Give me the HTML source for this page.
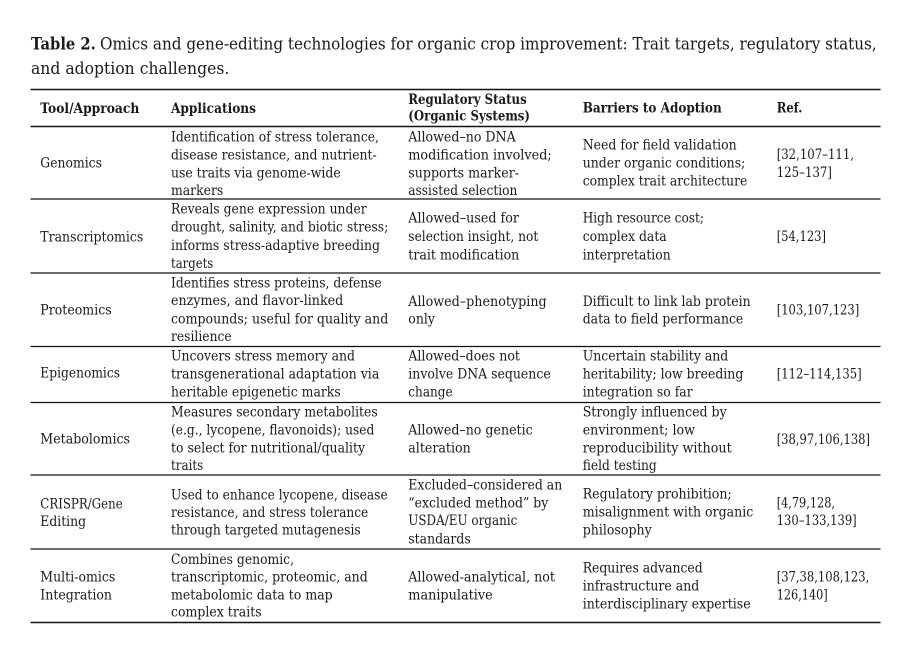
<!DOCTYPE html>
<html>
<head>
<meta charset="utf-8">
<style>
  html, body { margin: 0; padding: 0; background: #ffffff; }
  body { width: 919px; height: 672px; overflow: hidden; }
  svg { display: block; }
  text { font-family: "DejaVu Serif", "Liberation Serif", serif; fill: #1a1a1a; font-size: 13.5px; }
  .b { font-weight: bold; }
  .t { font-size: 17px; }
</style>
</head>
<body>
<svg width="919" height="672" viewBox="0 0 919 672" xmlns="http://www.w3.org/2000/svg">
  <rect x="0" y="0" width="919" height="672" fill="#ffffff"/>

  <!-- Title -->
  <text class="t b" x="31" y="49.3" textLength="64.7" lengthAdjust="spacingAndGlyphs">Table 2.</text>
  <text class="t" x="100" y="49.3" textLength="776.7" lengthAdjust="spacingAndGlyphs">Omics and gene-editing technologies for organic crop improvement: Trait targets, regulatory status,</text>
  <text class="t" x="31" y="74" textLength="198.3" lengthAdjust="spacingAndGlyphs">and adoption challenges.</text>

  <!-- Rules -->
  <g stroke="#111" fill="none">
    <line x1="30.5" y1="89.5" x2="880.5" y2="89.5" stroke-width="1.6"/>
    <line x1="30.5" y1="126.5" x2="880.5" y2="126.5" stroke-width="1.4"/>
    <line x1="30.5" y1="199" x2="880.5" y2="199" stroke-width="1.3"/>
    <line x1="30.5" y1="273" x2="880.5" y2="273" stroke-width="1.3"/>
    <line x1="30.5" y1="346.5" x2="880.5" y2="346.5" stroke-width="1.3"/>
    <line x1="30.5" y1="402.5" x2="880.5" y2="402.5" stroke-width="1.3"/>
    <line x1="30.5" y1="475" x2="880.5" y2="475" stroke-width="1.3"/>
    <line x1="30.5" y1="549" x2="880.5" y2="549" stroke-width="1.3"/>
    <line x1="30.5" y1="622.5" x2="880.5" y2="622.5" stroke-width="1.5"/>
  </g>

  <!-- Header -->
  <text class="b" x="40.3" y="113" textLength="99" lengthAdjust="spacingAndGlyphs">Tool/Approach</text>
  <text class="b" x="171" y="113" textLength="85" lengthAdjust="spacingAndGlyphs">Applications</text>
  <text class="b" x="408.3" y="104" textLength="118.4" lengthAdjust="spacingAndGlyphs">Regulatory Status</text>
  <text class="b" x="408.3" y="120.7" textLength="121.7" lengthAdjust="spacingAndGlyphs">(Organic Systems)</text>
  <text class="b" x="582.7" y="112.7" textLength="139" lengthAdjust="spacingAndGlyphs">Barriers to Adoption</text>
  <text class="b" x="776.7" y="112.7" textLength="25.6" lengthAdjust="spacingAndGlyphs">Ref.</text>

  <!-- Genomics -->
  <text x="40.3" y="167.7" textLength="61.7" lengthAdjust="spacingAndGlyphs">Genomics</text>
  <text x="171" y="141.3" textLength="208" lengthAdjust="spacingAndGlyphs">Identification of stress tolerance,</text>
  <text x="171" y="159.3" textLength="205.7" lengthAdjust="spacingAndGlyphs">disease resistance, and nutrient-</text>
  <text x="171" y="177.3" textLength="169.7" lengthAdjust="spacingAndGlyphs">use traits via genome-wide</text>
  <text x="171" y="195" textLength="52.3" lengthAdjust="spacingAndGlyphs">markers</text>
  <text x="408.3" y="141.3" textLength="107.4" lengthAdjust="spacingAndGlyphs">Allowed–no DNA</text>
  <text x="408.3" y="159.3" textLength="143.4" lengthAdjust="spacingAndGlyphs">modification involved;</text>
  <text x="408.3" y="177.3" textLength="110.7" lengthAdjust="spacingAndGlyphs">supports marker-</text>
  <text x="408.3" y="195" textLength="109" lengthAdjust="spacingAndGlyphs">assisted selection</text>
  <text x="582.7" y="149.3" textLength="154" lengthAdjust="spacingAndGlyphs">Need for field validation</text>
  <text x="582.7" y="167.3" textLength="162.6" lengthAdjust="spacingAndGlyphs">under organic conditions;</text>
  <text x="582.7" y="185.3" textLength="164.6" lengthAdjust="spacingAndGlyphs">complex trait architecture</text>
  <text x="776.7" y="159" textLength="77.3" lengthAdjust="spacingAndGlyphs">[32,107–111,</text>
  <text x="776.7" y="177" textLength="55.3" lengthAdjust="spacingAndGlyphs">125–137]</text>

  <!-- Transcriptomics -->
  <text x="40.3" y="241.7" textLength="103" lengthAdjust="spacingAndGlyphs">Transcriptomics</text>
  <text x="171" y="213.3" textLength="195.7" lengthAdjust="spacingAndGlyphs">Reveals gene expression under</text>
  <text x="171" y="231.7" textLength="217.3" lengthAdjust="spacingAndGlyphs">drought, salinity, and biotic stress;</text>
  <text x="171" y="250" textLength="209" lengthAdjust="spacingAndGlyphs">informs stress-adaptive breeding</text>
  <text x="171" y="268" textLength="42.3" lengthAdjust="spacingAndGlyphs">targets</text>
  <text x="408.3" y="222.7" textLength="110.7" lengthAdjust="spacingAndGlyphs">Allowed–used for</text>
  <text x="408.3" y="241" textLength="130" lengthAdjust="spacingAndGlyphs">selection insight, not</text>
  <text x="408.3" y="259.3" textLength="111" lengthAdjust="spacingAndGlyphs">trait modification</text>
  <text x="582.7" y="222.7" textLength="121.3" lengthAdjust="spacingAndGlyphs">High resource cost;</text>
  <text x="582.7" y="241" textLength="84" lengthAdjust="spacingAndGlyphs">complex data</text>
  <text x="582.7" y="259.3" textLength="88" lengthAdjust="spacingAndGlyphs">interpretation</text>
  <text x="776.7" y="241" textLength="49.3" lengthAdjust="spacingAndGlyphs">[54,123]</text>

  <!-- Proteomics -->
  <text x="40.3" y="314.3" textLength="71.4" lengthAdjust="spacingAndGlyphs">Proteomics</text>
  <text x="171" y="287.3" textLength="210.7" lengthAdjust="spacingAndGlyphs">Identifies stress proteins, defense</text>
  <text x="171" y="305" textLength="172.3" lengthAdjust="spacingAndGlyphs">enzymes, and flavor-linked</text>
  <text x="171" y="323.3" textLength="217.3" lengthAdjust="spacingAndGlyphs">compounds; useful for quality and</text>
  <text x="171" y="341" textLength="60.7" lengthAdjust="spacingAndGlyphs">resilience</text>
  <text x="408.3" y="306" textLength="138.4" lengthAdjust="spacingAndGlyphs">Allowed–phenotyping</text>
  <text x="408.3" y="323.3" textLength="26.7" lengthAdjust="spacingAndGlyphs">only</text>
  <text x="582.7" y="306" textLength="168" lengthAdjust="spacingAndGlyphs">Difficult to link lab protein</text>
  <text x="582.7" y="323.3" textLength="160.6" lengthAdjust="spacingAndGlyphs">data to field performance</text>
  <text x="776.7" y="314.3" textLength="82.6" lengthAdjust="spacingAndGlyphs">[103,107,123]</text>

  <!-- Epigenomics -->
  <text x="40.3" y="377.7" textLength="79.7" lengthAdjust="spacingAndGlyphs">Epigenomics</text>
  <text x="171" y="360.3" textLength="184" lengthAdjust="spacingAndGlyphs">Uncovers stress memory and</text>
  <text x="171" y="378.5" textLength="208.3" lengthAdjust="spacingAndGlyphs">transgenerational adaptation via</text>
  <text x="171" y="396.7" textLength="169.7" lengthAdjust="spacingAndGlyphs">heritable epigenetic marks</text>
  <text x="408.3" y="360.3" textLength="111.7" lengthAdjust="spacingAndGlyphs">Allowed–does not</text>
  <text x="408.3" y="378.5" textLength="142.4" lengthAdjust="spacingAndGlyphs">involve DNA sequence</text>
  <text x="408.3" y="396.7" textLength="44.4" lengthAdjust="spacingAndGlyphs">change</text>
  <text x="582.7" y="360.3" textLength="145.6" lengthAdjust="spacingAndGlyphs">Uncertain stability and</text>
  <text x="582.7" y="378.5" textLength="160.6" lengthAdjust="spacingAndGlyphs">heritability; low breeding</text>
  <text x="582.7" y="396.7" textLength="110" lengthAdjust="spacingAndGlyphs">integration so far</text>
  <text x="776.7" y="378.7" textLength="85" lengthAdjust="spacingAndGlyphs">[112–114,135]</text>

  <!-- Metabolomics -->
  <text x="40.3" y="443.3" textLength="89.7" lengthAdjust="spacingAndGlyphs">Metabolomics</text>
  <text x="171" y="416.7" textLength="206.7" lengthAdjust="spacingAndGlyphs">Measures secondary metabolites</text>
  <text x="171" y="434.7" textLength="203.3" lengthAdjust="spacingAndGlyphs">(e.g., lycopene, flavonoids); used</text>
  <text x="171" y="452.7" textLength="194" lengthAdjust="spacingAndGlyphs">to select for nutritional/quality</text>
  <text x="171" y="470" textLength="32.3" lengthAdjust="spacingAndGlyphs">traits</text>
  <text x="408.3" y="434.7" textLength="124.4" lengthAdjust="spacingAndGlyphs">Allowed–no genetic</text>
  <text x="408.3" y="452.7" textLength="62.4" lengthAdjust="spacingAndGlyphs">alteration</text>
  <text x="582.7" y="416.7" textLength="144" lengthAdjust="spacingAndGlyphs">Strongly influenced by</text>
  <text x="582.7" y="434.7" textLength="112.3" lengthAdjust="spacingAndGlyphs">environment; low</text>
  <text x="582.7" y="452.5" textLength="149" lengthAdjust="spacingAndGlyphs">reproducibility without</text>
  <text x="582.7" y="470" textLength="74" lengthAdjust="spacingAndGlyphs">field testing</text>
  <text x="776.7" y="444" textLength="93.3" lengthAdjust="spacingAndGlyphs">[38,97,106,138]</text>

  <!-- CRISPR -->
  <text x="40.3" y="508.3" textLength="82.4" lengthAdjust="spacingAndGlyphs">CRISPR/Gene</text>
  <text x="40.3" y="526" textLength="45.7" lengthAdjust="spacingAndGlyphs">Editing</text>
  <text x="171" y="499.3" textLength="216.7" lengthAdjust="spacingAndGlyphs">Used to enhance lycopene, disease</text>
  <text x="171" y="517" textLength="197.3" lengthAdjust="spacingAndGlyphs">resistance, and stress tolerance</text>
  <text x="171" y="534.5" textLength="189.7" lengthAdjust="spacingAndGlyphs">through targeted mutagenesis</text>
  <text x="408.3" y="489.3" textLength="154" lengthAdjust="spacingAndGlyphs">Excluded–considered an</text>
  <text x="408.3" y="507.3" textLength="140" lengthAdjust="spacingAndGlyphs">“excluded method” by</text>
  <text x="408.3" y="525" textLength="109" lengthAdjust="spacingAndGlyphs">USDA/EU organic</text>
  <text x="408.3" y="543.3" textLength="62.4" lengthAdjust="spacingAndGlyphs">standards</text>
  <text x="582.7" y="498.5" textLength="149" lengthAdjust="spacingAndGlyphs">Regulatory prohibition;</text>
  <text x="582.7" y="516.7" textLength="170.6" lengthAdjust="spacingAndGlyphs">misalignment with organic</text>
  <text x="582.7" y="534.3" textLength="69" lengthAdjust="spacingAndGlyphs">philosophy</text>
  <text x="776.7" y="507.3" textLength="58.3" lengthAdjust="spacingAndGlyphs">[4,79,128,</text>
  <text x="776.7" y="525" textLength="80" lengthAdjust="spacingAndGlyphs">130–133,139]</text>

  <!-- Multi-omics -->
  <text x="40.3" y="581.7" textLength="75" lengthAdjust="spacingAndGlyphs">Multi-omics</text>
  <text x="40.3" y="599.3" textLength="71.7" lengthAdjust="spacingAndGlyphs">Integration</text>
  <text x="171" y="564" textLength="123" lengthAdjust="spacingAndGlyphs">Combines genomic,</text>
  <text x="171" y="581.7" textLength="196.7" lengthAdjust="spacingAndGlyphs">transcriptomic, proteomic, and</text>
  <text x="171" y="599.3" textLength="161.7" lengthAdjust="spacingAndGlyphs">metabolomic data to map</text>
  <text x="171" y="616.7" textLength="90.7" lengthAdjust="spacingAndGlyphs">complex traits</text>
  <text x="408.3" y="581.7" textLength="146.7" lengthAdjust="spacingAndGlyphs">Allowed-analytical, not</text>
  <text x="408.3" y="599.3" textLength="84.4" lengthAdjust="spacingAndGlyphs">manipulative</text>
  <text x="582.7" y="572.7" textLength="120" lengthAdjust="spacingAndGlyphs">Requires advanced</text>
  <text x="582.7" y="590.7" textLength="116.6" lengthAdjust="spacingAndGlyphs">infrastructure and</text>
  <text x="582.7" y="608.3" textLength="168" lengthAdjust="spacingAndGlyphs">interdisciplinary expertise</text>
  <text x="776.7" y="581.7" textLength="92.6" lengthAdjust="spacingAndGlyphs">[37,38,108,123,</text>
  <text x="776.7" y="599.3" textLength="51" lengthAdjust="spacingAndGlyphs">126,140]</text>
</svg>
</body>
</html>
